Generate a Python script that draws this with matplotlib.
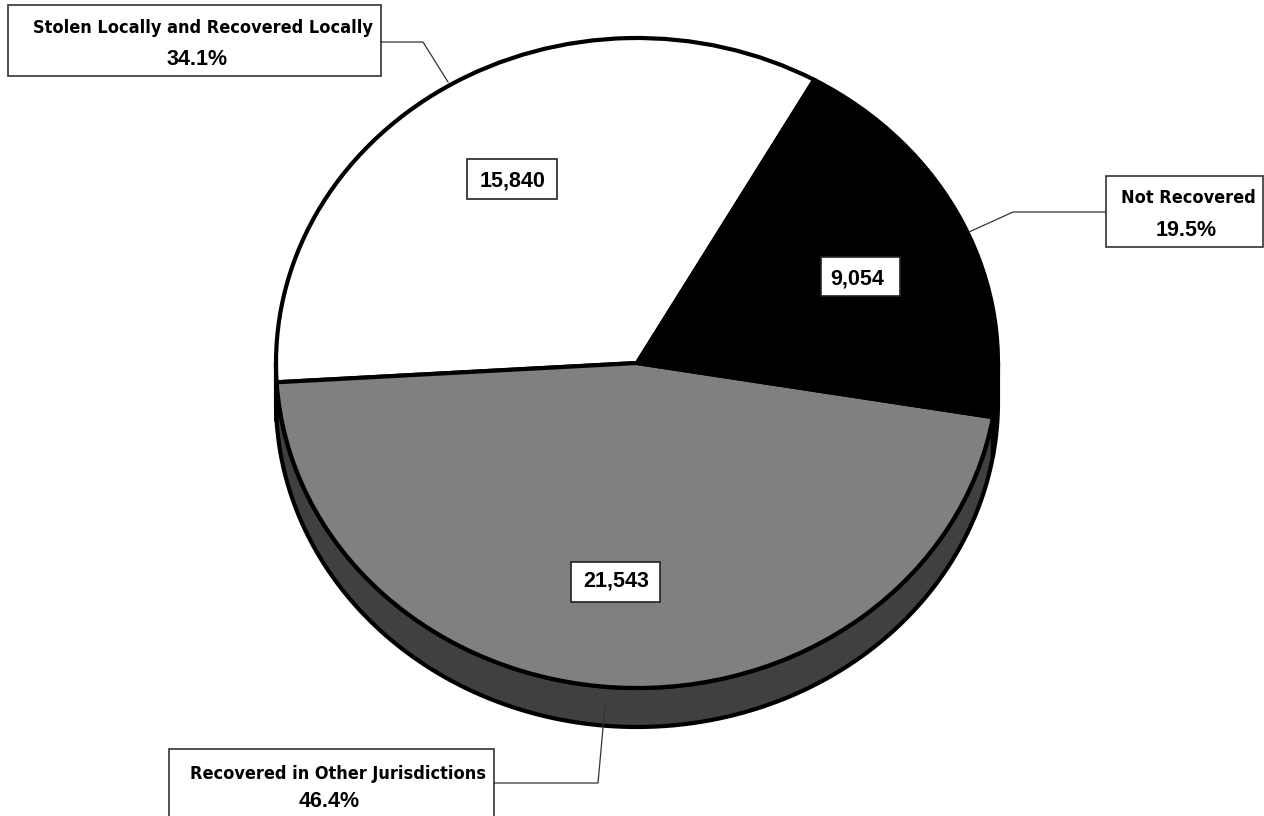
import numpy as np
import matplotlib.pyplot as plt
from matplotlib.patches import Polygon, Rectangle
from matplotlib.transforms import Affine2D

# vehicle theft outcomes
categories = ["Stolen Locally and Recovered Locally",
              "Recovered in Other Jurisdictions",
              "Not Recovered"]
vehicles = [15840, 21543, 9054]
percent_labels = ["34.1%", "46.4%", "19.5%"]
value_labels = ["15,840", "21,543", "9,054"]

top_colors = ["white", "#808080", "black"]
side_colors = ["white", "#404040", "black"]

W, H = 1264, 816


def px(x, y):
    # screen pixel (y down) -> data coords (y up)
    return x, H - y


fig = plt.figure(figsize=(W / 100, H / 100), dpi=100)
ax = fig.add_axes([0, 0, 1, 1])

cx, cy = px(637, 363)
rx, ry, depth = 361, 325, 39
squash = Affine2D().translate(-cx, -cy).scale(1, ry / rx).translate(cx, cy)

wedges, _ = ax.pie(vehicles, colors=top_colors, startangle=60.6,
                   counterclock=True, center=(cx, cy), radius=rx,
                   wedgeprops=dict(edgecolor="black", linewidth=3))
for w in wedges:
    w.set_transform(squash + ax.transData)
    w.set_zorder(3)

# side walls of the front half of the disc
for w, col in zip(wedges, side_colors):
    t1, t2 = w.theta1, w.theta2
    for k in (-360, 0, 360):
        lo, hi = max(t1, 180 + k), min(t2, 360 + k)
        if hi <= lo:
            continue
        t = np.radians(np.linspace(lo, hi, 120))
        xs = cx + rx * np.cos(t)
        ys = cy + ry * np.sin(t)
        pts = np.concatenate([np.column_stack([xs, ys]),
                              np.column_stack([xs[::-1], ys[::-1] - depth])])
        ax.add_patch(Polygon(pts, closed=True, facecolor=col,
                             edgecolor="black", linewidth=3, zorder=2,
                             joinstyle="round"))

ax.set_xlim(0, W)
ax.set_ylim(0, H)
ax.set_aspect("auto")
ax.axis("off")

name_font = dict(family=["DejaVu Sans"], weight="bold",
                 stretch="condensed", size=13)
num_font = dict(family=["Liberation Sans", "DejaVu Sans"],
                weight="bold", size=15.5)

# value boxes inside slices
value_pos = [(513, 187), (616, 587), (857, 285)]
value_box = [(467, 159, 90, 40), (571, 562, 89, 40), (821, 257, 79, 39)]
for lab, (x, y), (bx, by, bw, bh) in zip(value_labels, value_pos, value_box):
    ax.add_patch(Rectangle(px(bx, by + bh), bw, bh, facecolor="white",
                           edgecolor="#222222", linewidth=1.2, zorder=4))
    ax.text(*px(x, y), lab, ha="center", va="baseline", zorder=5, **num_font)

# category callouts with leader lines
callout_box = [(8, 5, 373, 71), (169, 749, 325, 80), (1106, 176, 157, 71)]
name_pos = [(203, 33), (338, 779), (1188, 203)]
pct_pos = [(197, 65), (329, 807), (1186, 236)]
leaders = [[(381, 42), (423, 42), (448, 82)],
           [(494, 783), (598, 783), (605, 706)],
           [(1106, 212), (1013, 212), (969, 232)]]
for name, pct, (bx, by, bw, bh), npos, ppos, line in zip(
        categories, percent_labels, callout_box, name_pos, pct_pos, leaders):
    ax.add_patch(Rectangle(px(bx, by + bh), bw, bh, facecolor="white",
                           edgecolor="#333333", linewidth=1.2, zorder=4))
    ax.text(*px(*npos), name, ha="center", va="baseline", zorder=5, **name_font)
    ax.text(*px(*ppos), pct, ha="center", va="baseline", zorder=5, **num_font)
    lx, ly = zip(*[px(*p) for p in line])
    ax.plot(lx, ly, color="#333333", linewidth=0.9, zorder=6)

fig.savefig("out.png", dpi=100)
